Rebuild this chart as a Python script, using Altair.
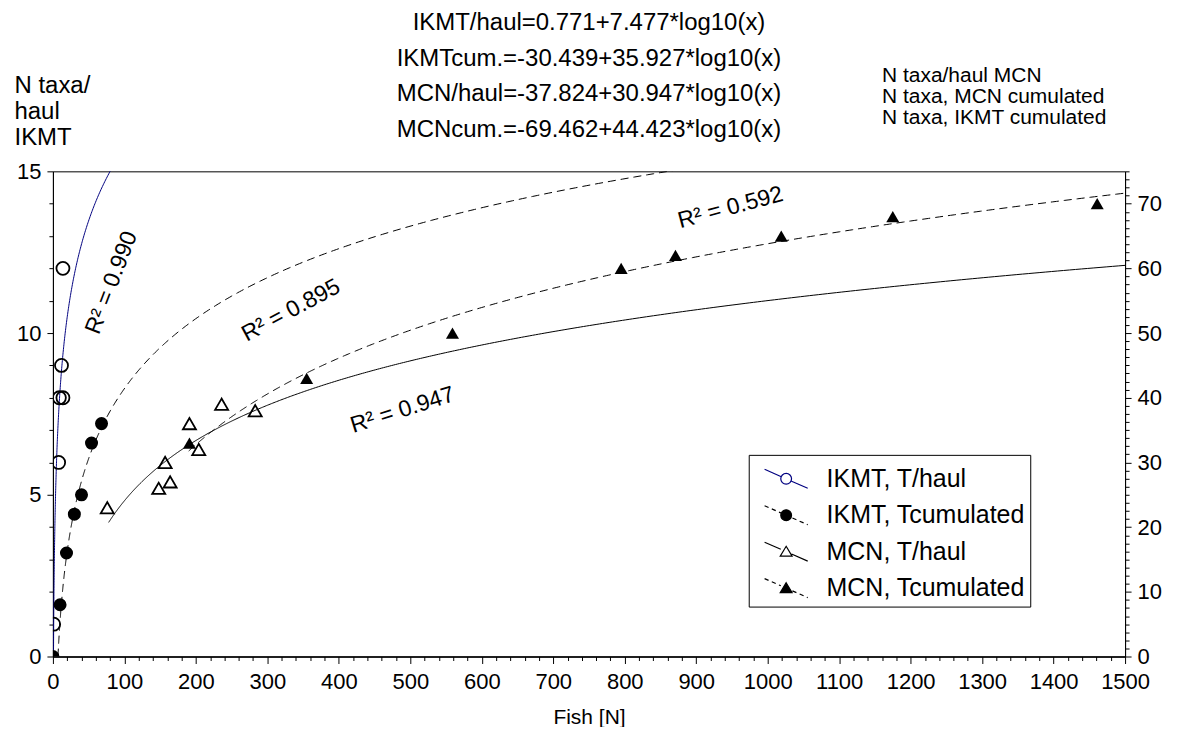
import altair as alt
import pandas as pd

# ---------------- data ----------------
IKMT_HAUL_X = [1, 8, 9, 14, 12, 14]
IKMT_HAUL_Y = [1, 6, 8, 8, 9, 12]
IKMT_CUM_X = [0, 10, 19, 30, 40, 54, 68]
IKMT_CUM_Y = [0, 8, 16, 22, 25, 33, 36]
MCN_HAUL_X = [76, 148, 157, 164, 191, 204, 236, 283]
MCN_HAUL_Y = [23, 26, 30, 27, 36, 32, 39, 38]
MCN_CUM_X = [191, 355, 559, 795, 871, 1019, 1175, 1461]
MCN_CUM_Y = [33, 43, 50, 60, 62, 65, 68, 70]

SERIES = ["IKMT, T/haul", "IKMT, Tcumulated", "MCN, T/haul", "MCN, Tcumulated"]

# fitted log curves (coefficients as printed in the chart)
FIT_NAMES = ["IKMT/haul", "IKMTcum.", "MCN/haul", "MCNcum."]
FIT_A = [0.771, -30.439, -37.824, -69.462]
FIT_B = [7.477, 35.927, 30.947, 44.423]
FIT_X0 = [0.8, 7.03, 78, 190]
FIT_X1 = [1500, 1500, 1500, 1500]

R2_TEXT = ["R\u00b2 = 0.990", "R\u00b2 = 0.895", "R\u00b2 = 0.947", "R\u00b2 = 0.592"]
R2_X = [82, 333, 489, 948]
R2_Y = [57.8, 53.5, 38.1, 69.4]   # right-axis units
R2_ANGLE = [291, 332, 342.5, 345]

LEFT_TITLE = ["N taxa/", "haul", "IKMT"]
RIGHT_TITLE = ["N taxa/haul MCN", "N taxa, MCN cumulated", "N taxa, IKMT cumulated"]
EQ_LINES = [f"{n}={a:.3f}+{b:.3f}*log10(x)" for n, a, b in zip(FIT_NAMES, FIT_A, FIT_B)]

FONT = "Liberation Sans"
W, H = 1074, 486


def xenc():
    return alt.X(
        "x:Q",
        scale=alt.Scale(domain=[0, 1500], nice=False, zero=False),
        axis=alt.Axis(
            values=list(range(0, 1501, 20)), format="d",
            labelExpr="datum.value % 100 === 0 ? datum.label : ''",
            tickSize={"condition": {"test": "datum.value % 100 === 0", "value": 7}, "value": 4},
            title="Fish [N]", titlePadding=14, titleFontSize=21, labelPadding=8,
            labelOverlap=False, labelFlush=False, grid=False, domainWidth=1.5,
        ),
    )


def yleft():
    return alt.Y(
        "y:Q",
        scale=alt.Scale(domain=[0, 15], nice=False, zero=False),
        axis=alt.Axis(
            orient="left", values=list(range(16)),
            labelExpr="datum.value % 5 === 0 ? datum.label : ''",
            tickSize={"condition": {"test": "datum.value % 5 === 0", "value": 6}, "value": 4},
            title=LEFT_TITLE, titleAngle=0, titleAlign="left", titleBaseline="middle",
            titleX=-39, titleY=-86, titleLineHeight=26, titleFontSize=24,
            labelPadding=6, grid=False, labelOverlap=False, labelFlush=False,
        ),
    )


def yright():
    return alt.Y(
        "y:Q",
        scale=alt.Scale(domain=[0, 75], nice=False, zero=False),
        axis=alt.Axis(
            orient="right", values=[i * 1.25 for i in range(61)],
            labelExpr="datum.value % 10 === 0 ? datum.label : ''",
            tickSize={"condition": {"test": "datum.value % 10 === 0", "value": 6}, "value": 4},
            title=RIGHT_TITLE, titleAngle=0, titleAlign="left", titleBaseline="middle",
            titleX=-244, titleY=-96, titleLineHeight=21, titleFontSize=21,
            labelPadding=6, grid=False, labelOverlap=False, labelFlush=False,
        ),
    )


def fit_chart(i, yenc, color, dashed):
    a, b, x0, x1 = FIT_A[i], FIT_B[i], FIT_X0[i], FIT_X1[i]
    kw = dict(clip=True, color=color, strokeWidth=1)
    if dashed:
        kw["strokeDash"] = [8, 5]
    return (
        alt.Chart(alt.sequence(0, 1.0001, 0.002, as_="t"))
        .transform_calculate(x=f"{x0} * pow({x1} / {x0}, datum.t)")
        .transform_calculate(y=f"{a} + {b} * log(datum.x) / LN10")
        .mark_line(**kw)
        .encode(x=xenc(), y=yenc, order="t:Q")
    )


def pts(xs, ys, shape, filled, yenc):
    df = pd.DataFrame({"x": xs, "y": ys})
    kw = dict(shape=shape, filled=filled, color="black", size=170, opacity=1, clip=True)
    if not filled:
        kw["strokeWidth"] = 1.8
    return alt.Chart(df).mark_point(**kw).encode(x=xenc(), y=yenc)


# ---------- legend symbol paths (line through marker) ----------
CX, K, R = 0.75, 0.44, 0.3


def seg(a, b):
    return f"M{CX + a:.3f},{a * K:.3f}L{CX + b:.3f},{b * K:.3f}"


def line_path(dashed):
    if not dashed:
        return seg(-1.2, -R) + seg(R, 1.2)
    out = ""
    s = -1.2
    while s < -R:
        out += seg(s, min(s + 0.22, -R))
        s += 0.4
    s = R + 0.05
    while s < 1.2:
        out += seg(s, min(s + 0.22, 1.2))
        s += 0.4
    return out


CIRC = f"M{CX - R:.3f},0A{R},{R} 0 1,0 {CX + R:.3f},0A{R},{R} 0 1,0 {CX - R:.3f},0Z"
TRI = f"M{CX:.3f},-0.3L{CX + 0.33:.3f},0.25L{CX - 0.33:.3f},0.25Z"
LEG_SHAPES = [line_path(False) + CIRC, line_path(True) + CIRC,
              line_path(False) + TRI, line_path(True) + TRI]
LEG_FILL = ["white", "black", "white", "black"]
LEG_STROKE = ["#000080", "black", "black", "black"]

leg = alt.Legend(
    title=None, orient="none", legendX=697, legendY=284, padding=5,
    strokeColor="black", fillColor="white", labelFontSize=25, labelFont=FONT,
    labelColor="black", labelOffset=35, symbolSize=1296, symbolStrokeWidth=1.2,
    rowPadding=4.5, labelLimit=400, symbolOpacity=1,
)

legend_df = pd.DataFrame({"series": SERIES, "x": [-1000] * 4, "y": [-1000] * 4})
legend_layer = (
    alt.Chart(legend_df)
    .mark_point(clip=True, opacity=1, size=1296, strokeWidth=1.2)
    .encode(
        x=xenc(), y=yright(),
        shape=alt.Shape("series:N", scale=alt.Scale(domain=SERIES, range=LEG_SHAPES), legend=leg),
        fill=alt.Fill("series:N", scale=alt.Scale(domain=SERIES, range=LEG_FILL), legend=leg),
        stroke=alt.Stroke("series:N", scale=alt.Scale(domain=SERIES, range=LEG_STROKE), legend=leg),
    )
)

r2_df = pd.DataFrame({"x": R2_X, "y": R2_Y, "text": R2_TEXT, "angle": R2_ANGLE})
r2_layer = (
    alt.Chart(r2_df)
    .mark_text(fontSize=23, font=FONT, color="black")
    .encode(x=xenc(), y=yright(), text="text:N", angle=alt.Angle("angle:Q", scale=None))
)

left = alt.layer(
    fit_chart(0, yleft(), "#000080", False),
    pts(IKMT_HAUL_X, IKMT_HAUL_Y, "circle", False, yleft()),
)

right = alt.layer(
    fit_chart(1, yright(), "black", True),
    fit_chart(2, yright(), "black", False),
    fit_chart(3, yright(), "black", True),
    pts(IKMT_CUM_X, IKMT_CUM_Y, "circle", True, yright()),
    pts(MCN_HAUL_X, MCN_HAUL_Y, "triangle-up", False, yright()),
    pts(MCN_CUM_X, MCN_CUM_Y, "triangle-up", True, yright()),
    r2_layer,
    legend_layer,
)

chart = (
    alt.layer(left, right)
    .resolve_scale(y="independent")
    .properties(
        width=W, height=H,
        padding={"left": 45, "top": 163, "right": 45, "bottom": 70},
        autosize=alt.AutoSizeParams(type="none"),
        title=alt.TitleParams(
            text=EQ_LINES, fontSize=24, fontWeight="normal", lineHeight=36,
            anchor="middle", frame="group", dy=82, color="black", font=FONT,
        ),
    )
    .configure(font=FONT, background="white")
    .configure_view(stroke="black", strokeWidth=1)
    .configure_axis(
        labelFontSize=22, labelColor="black", tickColor="black", domainColor="black",
        titleColor="black", titleFontWeight="normal", tickWidth=1, domainWidth=1,
        labelFont=FONT, titleFont=FONT,
    )
)

chart.save("out.html", embed_options={"renderer": "svg", "actions": False})
